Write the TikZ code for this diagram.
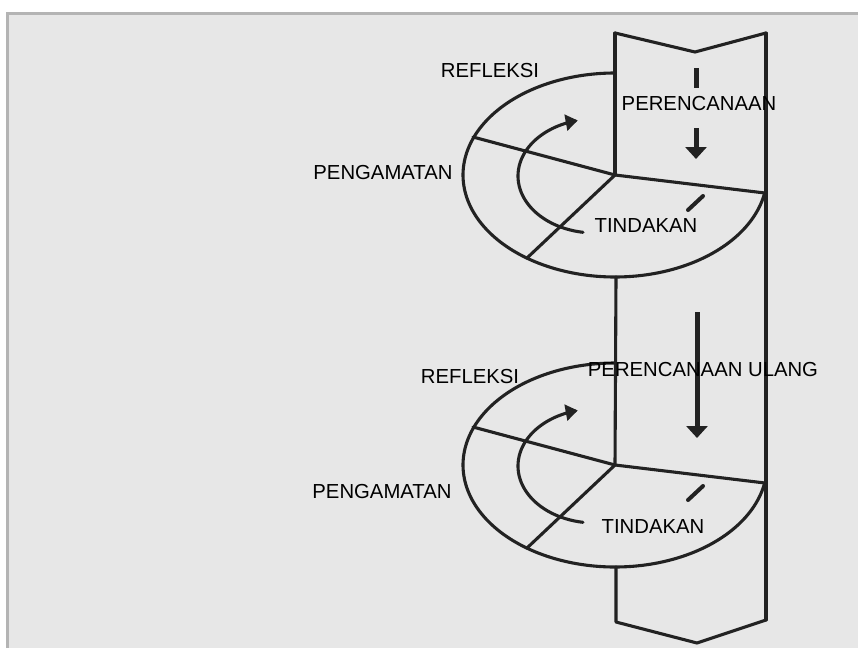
\documentclass[tikz,border=0pt]{standalone}
\usepackage{fontspec}
\setmainfont{Liberation Sans}
\usetikzlibrary{arrows.meta}
\definecolor{bgc}{HTML}{E7E7E7}
\definecolor{framec}{HTML}{B4B4B4}
\definecolor{ink}{HTML}{222222}
\begin{document}
\begin{tikzpicture}[x=1pt,y=-1pt,
  line/.style={draw=ink, line width=3.1pt, line join=round, line cap=round},
  lbl/.style={font=\fontsize{20.3}{24}\selectfont, text=black, inner sep=0pt},
  flowarrow/.style={draw=ink, line width=5pt, -{Triangle[width=21pt,length=12pt]}},
  dashbar/.style={draw=ink, line width=5pt},
  slash/.style={draw=ink, line width=4pt, line cap=round},
  cyclearrow/.style={line, -{Triangle[width=16pt,length=12pt]}}]
\useasboundingbox (0,0) rectangle (858,648);
\fill[white] (0,0) rectangle (858,648);
\fill[bgc] (6,12) rectangle (858,648);
\draw[framec, line width=3pt] (7.5,648) -- (7.5,13.5) -- (858,13.5);

% column outline points
\coordinate (tl) at (615,33);
\coordinate (tm) at (695,52);
\coordinate (tr) at (766,33);
\coordinate (bl) at (616,622);
\coordinate (bm) at (697,643);
\coordinate (br) at (766,620);

% the two spirals
\foreach \s/\n in {0/1,290/2}{
  \begin{scope}[shift={(0,\s)}]
    \coordinate (c\n) at (615,175);
    \coordinate (ul\n) at (473,137);
    \coordinate (ll\n) at (527,258);
    \coordinate (r\n) at (765,193);
    \coordinate (b\n) at (616,277);
    \coordinate (sa\n) at (688,210);
    \coordinate (sb\n) at (703,196);
    \draw[line] plot[domain=10:270, samples=150] ({615+152*cos(\x)},{175+102*sin(\x)});
    \draw[line] (ul\n) -- (c\n) -- (r\n);
    \draw[line] (c\n) -- (ll\n);
    \draw[cyclearrow] plot[domain=99:257, samples=100] ({595+77*cos(\x)},{176+57*sin(\x)});
    \draw[slash] (sa\n) -- (sb\n);
  \end{scope}
}

% column lines
\draw[line] (tl) -- (tm) -- (tr);
\draw[line] (tl) -- (c1);
\draw[line] (b1) -- (c2);
\draw[line] (b2) -- (bl) -- (bm) -- (br);
\draw[line] (tr) -- (br);

% flow arrows in the column
\coordinate (d1a) at (696,68);
\coordinate (d1b) at (696,88);
\coordinate (a1a) at (696,128);
\coordinate (a1b) at (696,159);
\coordinate (a2a) at (697,312);
\coordinate (a2b) at (697,438);
\draw[dashbar] (d1a) -- (d1b);
\draw[flowarrow] (a1a) -- (a1b);
\draw[flowarrow] (a2a) -- (a2b);

% labels
\node[lbl] (refl1) at (490,71) {REFLEKSI};
\node[lbl] (plan1) at (699,104) {PERENCANAAN};
\node[lbl] (obs1) at (383,173) {PENGAMATAN};
\node[lbl] (act1) at (646,226) {TINDAKAN};
\node[lbl] (refl2) at (470,377) {REFLEKSI};
\node[lbl] (plan2) at (703,370) {PERENCANAAN ULANG};
\node[lbl] (obs2) at (382,492) {PENGAMATAN};
\node[lbl] (act2) at (653,527) {TINDAKAN};
\end{tikzpicture}
\end{document}
